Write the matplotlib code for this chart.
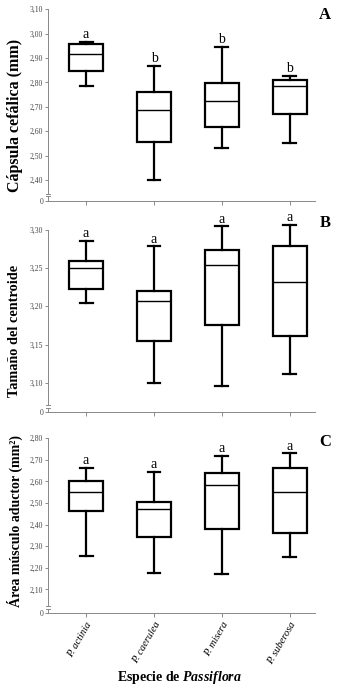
import matplotlib.pyplot as plt
import numpy as np

plt.rcParams['font.family'] = 'Liberation Serif'
plt.rcParams['mathtext.fontset'] = 'custom'
plt.rcParams['mathtext.rm'] = 'Liberation Serif'
plt.rcParams['mathtext.bfit'] = 'Liberation Serif:italic:bold'

especies = ['P. actinia', 'P. caerulea', 'P. misera', 'P. suberosa']

# A - capsula cefalica (mm)
a_min = [2.785, 2.400, 2.530, 2.550]
a_q1 = [2.846, 2.554, 2.619, 2.671]
a_med = [2.918, 2.686, 2.722, 2.787]
a_q3 = [2.957, 2.759, 2.797, 2.809]
a_max = [2.965, 2.869, 2.945, 2.826]
a_letras = ['a', 'b', 'b', 'b']
a_ticks = [2.40, 2.50, 2.60, 2.70, 2.80, 2.90, 3.00, 3.10]

# B - tamanho do centroide
b_min = [3.204, 3.100, 3.096, 3.112]
b_q1 = [3.223, 3.155, 3.175, 3.161]
b_med = [3.250, 3.2065, 3.254, 3.232]
b_q3 = [3.2596, 3.220, 3.273, 3.278]
b_max = [3.285, 3.278, 3.304, 3.306]
b_letras = ['a', 'a', 'a', 'a']
b_ticks = [3.10, 3.15, 3.20, 3.25, 3.30]

# C - area musculo aductor (mm2)
c_min = [2.255, 2.175, 2.172, 2.250]
c_q1 = [2.461, 2.343, 2.378, 2.360]
c_med = [2.553, 2.472, 2.585, 2.553]
c_q3 = [2.603, 2.503, 2.641, 2.660]
c_max = [2.664, 2.643, 2.717, 2.730]
c_letras = ['a', 'a', 'a', 'a']
c_ticks = [2.10, 2.20, 2.30, 2.40, 2.50, 2.60, 2.70, 2.80]

W, H = 340, 689
fig = plt.figure(figsize=(W / 100, H / 100), dpi=100)


def painel(y_base, y_topo, ylim, mins, q1, med, q3, maxs, letras, ticks,
           ylabel, y_label_px, label_fs, tag, y_tag_px, rotulos=False):
    ax = fig.add_axes([48 / W, 1 - y_base / H, 267 / W, (y_base - y_topo) / H])
    stats = []
    for i in range(len(especies)):
        stats.append(dict(whislo=mins[i], q1=q1[i], med=med[i], q3=q3[i],
                          whishi=maxs[i], label=especies[i]))
    ax.bxp(stats, positions=range(4), widths=0.51, capwidths=0.19,
           showfliers=False, patch_artist=True,
           boxprops=dict(facecolor='white', edgecolor='black', linewidth=1.6),
           whiskerprops=dict(color='black', linewidth=1.6),
           capprops=dict(color='black', linewidth=1.6),
           medianprops=dict(color='black', linewidth=1.0))
    for i, l in enumerate(letras):
        ax.annotate(l, (i, maxs[i]), xytext=(0, 0.5), textcoords='offset points',
                    ha='center', va='bottom', fontsize=10)

    ax.set_xlim(-0.56, 3.37)
    ax.set_ylim(*ylim)
    px = (ylim[1] - ylim[0]) / (y_base - y_topo)  # valor por pixel
    ax.set_yticks([ylim[0]] + ticks)
    ax.set_yticklabels(['0'] + [f'{t:.2f}'.replace('.', ',') for t in ticks])
    ax.tick_params(axis='y', length=2, width=0.6, color='#777', labelsize=5.5,
                   labelcolor='#444', pad=1.5)
    ax.tick_params(axis='x', length=3, width=0.6, color='#777', pad=2)
    for s in ['top', 'right']:
        ax.spines[s].set_visible(False)
    for s in ['left', 'bottom']:
        ax.spines[s].set_color('#888')
        ax.spines[s].set_linewidth(0.7)
    # quebra do eixo
    corte_sup = ylim[0] + 7 * px
    corte_inf = ylim[0] + 4.5 * px
    ax.spines['left'].set_bounds(corte_sup, ticks[-1])
    tr = ax.get_yaxis_transform()
    ax.plot([0, 0], [ylim[0], corte_inf], color='#888', lw=0.7,
            transform=tr, clip_on=False)
    for y in [corte_sup, corte_inf]:
        ax.plot([-0.009, 0.009], [y, y], color='#888', lw=0.7,
                transform=tr, clip_on=False)

    if rotulos:
        ax.set_xticklabels(especies, rotation=60, ha='right', va='top',
                           rotation_mode='anchor', style='italic', fontsize=7.5)
    else:
        ax.set_xticklabels([])

    fig.text(15 / W, 1 - y_label_px / H, ylabel, rotation=90, ha='center',
             va='center', fontsize=label_fs, fontweight='bold')
    fig.text(325 / W, 1 - y_tag_px / H, tag, ha='center', va='center',
             fontsize=12, fontweight='bold')
    return ax


painel(201, 5, (2.314, 3.117), a_min, a_q1, a_med, a_q3, a_max, a_letras,
       a_ticks, 'Cápsula cefálica (mm)', 115, 11.5, 'A', 15)
painel(412, 215, (3.062, 3.319), b_min, b_q1, b_med, b_q3, b_max, b_letras,
       b_ticks, 'Tamaño del centroide', 331, 10.3, 'B', 223)
painel(613.3, 425, (1.989, 2.861), c_min, c_q1, c_med, c_q3, c_max, c_letras,
       c_ticks, 'Área músculo aductor (mm²)', 521, 10, 'C', 442, rotulos=True)

fig.text(180 / W, 1 - 677 / H, r'Especie de $\mathbfit{Passiflora}$',
         ha='center', va='center', fontsize=10, fontweight='bold')

plt.savefig('out.png', dpi=100)
